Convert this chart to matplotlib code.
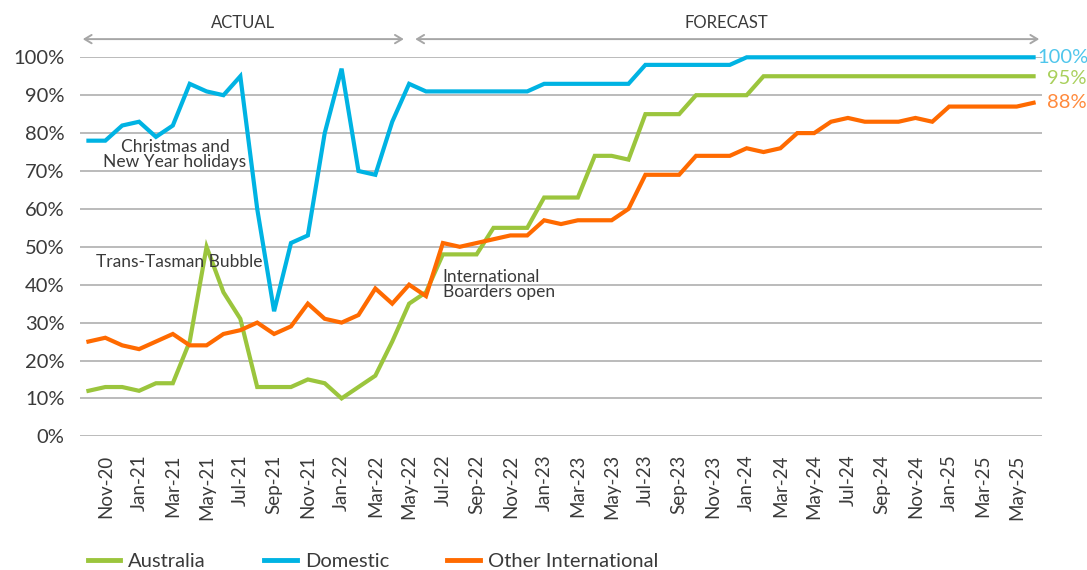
import numpy as np
import matplotlib.pyplot as plt
from matplotlib.lines import Line2D

plt.rcParams['font.family'] = ['Lato', 'DejaVu Sans']

# Monthly series, Oct-20 .. Jun-25
months = [f'{m}-{y}' for y, ms in [
    ('20', ['Oct', 'Nov', 'Dec']),
    ('21', ['Jan', 'Feb', 'Mar', 'Apr', 'May', 'Jun', 'Jul', 'Aug', 'Sep', 'Oct', 'Nov', 'Dec']),
    ('22', ['Jan', 'Feb', 'Mar', 'Apr', 'May', 'Jun', 'Jul', 'Aug', 'Sep', 'Oct', 'Nov', 'Dec']),
    ('23', ['Jan', 'Feb', 'Mar', 'Apr', 'May', 'Jun', 'Jul', 'Aug', 'Sep', 'Oct', 'Nov', 'Dec']),
    ('24', ['Jan', 'Feb', 'Mar', 'Apr', 'May', 'Jun', 'Jul', 'Aug', 'Sep', 'Oct', 'Nov', 'Dec']),
    ('25', ['Jan', 'Feb', 'Mar', 'Apr', 'May', 'Jun']),
] for m in ms]

domestic = [78, 78, 82, 83, 79, 82, 93, 91, 90, 95,
            60, 33, 51, 53, 80, 97, 70, 69, 83, 93,
            91, 91, 91, 91, 91, 91, 91,
            93, 93, 93, 93, 93, 93,
            98, 98, 98, 98, 98, 98,
            100, 100, 100, 100, 100, 100, 100, 100, 100,
            100, 100, 100, 100, 100, 100, 100, 100, 100]

australia = [12, 13, 13, 12, 14, 14, 25, 50, 38, 31,
             13, 13, 13, 15, 14, 10, 13, 16, 25, 35,
             38, 48, 48, 48, 55, 55, 55, 63, 63, 63,
             74, 74, 73, 85, 85, 85, 90, 90, 90, 90,
             95, 95, 95, 95, 95, 95, 95, 95, 95,
             95, 95, 95, 95, 95, 95, 95, 95]

other_intl = [25, 26, 24, 23, 25, 27, 24, 24, 27, 28,
              30, 27, 29, 35, 31, 30, 32, 39, 35, 40,
              37, 51, 50, 51, 52, 53, 53, 57, 56, 57,
              57, 57, 60, 69, 69, 69, 74, 74, 74, 76,
              75, 76, 80, 80, 83, 84, 83, 83, 83, 84,
              83, 87, 87, 87, 87, 87, 88]

c_aus = '#9bc53d'
c_dom = '#00b3e3'
c_oth = '#ff6a00'
grey_text = '#3a3a3a'

x = np.arange(len(months))

fig = plt.figure(figsize=(10.87, 5.70), dpi=100)
ax = fig.add_axes([80 / 1087, 1 - 436.3 / 570, 962 / 1087, 379 / 570])

ax.plot(x, np.array(australia) / 100, color=c_aus, lw=3, clip_on=False, solid_joinstyle='miter')
ax.plot(x, np.array(domestic) / 100, color=c_dom, lw=3, clip_on=False, solid_joinstyle='miter')
ax.plot(x, np.array(other_intl) / 100, color=c_oth, lw=3, clip_on=False, solid_joinstyle='miter')

ax.set_xlim(-0.5, len(months) - 0.5)
ax.set_ylim(0, 1)
ax.set_yticks(np.arange(0, 1.01, 0.1))
ax.set_yticklabels([f'{v}%' for v in range(0, 101, 10)])
tick_idx = x[1::2]
ax.set_xticks(tick_idx)
ax.set_xticklabels([months[i] for i in tick_idx], rotation=90)
ax.tick_params(axis='y', length=0, pad=11, labelsize=14.5, labelcolor=grey_text)
ax.tick_params(axis='x', length=0, pad=13, labelsize=13.5, labelcolor=grey_text)
ax.grid(axis='y', color='#b5b5b5', lw=1.3)
ax.set_axisbelow(True)
for s in ax.spines.values():
    s.set_visible(False)

# actual / forecast arrows
xt = ax.get_xaxis_transform()
arrow_kw = dict(arrowstyle='<->,head_length=0.5,head_width=0.3', color='#a6a6a6', lw=1.4)
ax.annotate('', xy=(-0.5, 1.048), xytext=(18.85, 1.048), xycoords=xt, textcoords=xt,
            arrowprops=arrow_kw, annotation_clip=False)
ax.annotate('', xy=(19.2, 1.048), xytext=(56.5, 1.048), xycoords=xt, textcoords=xt,
            arrowprops=arrow_kw, annotation_clip=False)
ax.text(9.15, 1.09, 'ACTUAL', transform=xt, ha='center', va='center', fontsize=12, color=grey_text)
ax.text(37.8, 1.09, 'FORECAST', transform=xt, ha='center', va='center', fontsize=12, color=grey_text)

# event notes
ax.text(5.13, 0.743, 'Christmas and\nNew Year holidays', ha='center', va='center',
        fontsize=12.5, color=grey_text, linespacing=0.95)
ax.text(0.46, 0.46, 'Trans-Tasman Bubble', ha='left', va='center', fontsize=12.5, color=grey_text)
ax.text(21.0, 0.4, 'International\nBoarders open', ha='left', va='center',
        fontsize=12.5, color=grey_text, linespacing=0.95)

# end labels
ax.text(56.2, domestic[-1] / 100, f'{domestic[-1]}%', ha='left', va='center', fontsize=14.5, color='#4fc6ec')
ax.text(56.8, 0.943, f'{australia[-1]}%', ha='left', va='center', fontsize=14.5, color='#a9d05c')
ax.text(56.8, 0.880, f'{other_intl[-1]}%', ha='left', va='center', fontsize=14.5, color='#ff8a3d')

legend_handles = [
    Line2D([0], [0], color=c_aus, lw=3.5, label='Australia'),
    Line2D([0], [0], color=c_dom, lw=3.5, label='Domestic'),
    Line2D([0], [0], color=c_oth, lw=3.5, label='Other International'),
]
fig.legend(handles=legend_handles, loc='center left', bbox_to_anchor=(70 / 1087, 1 - 561 / 570),
           ncol=3, frameon=False, fontsize=14.5, handlelength=1.6, handletextpad=0.4,
           columnspacing=2.9, labelcolor=grey_text)

fig.savefig('out.png', dpi=100)
plt.close(fig)
